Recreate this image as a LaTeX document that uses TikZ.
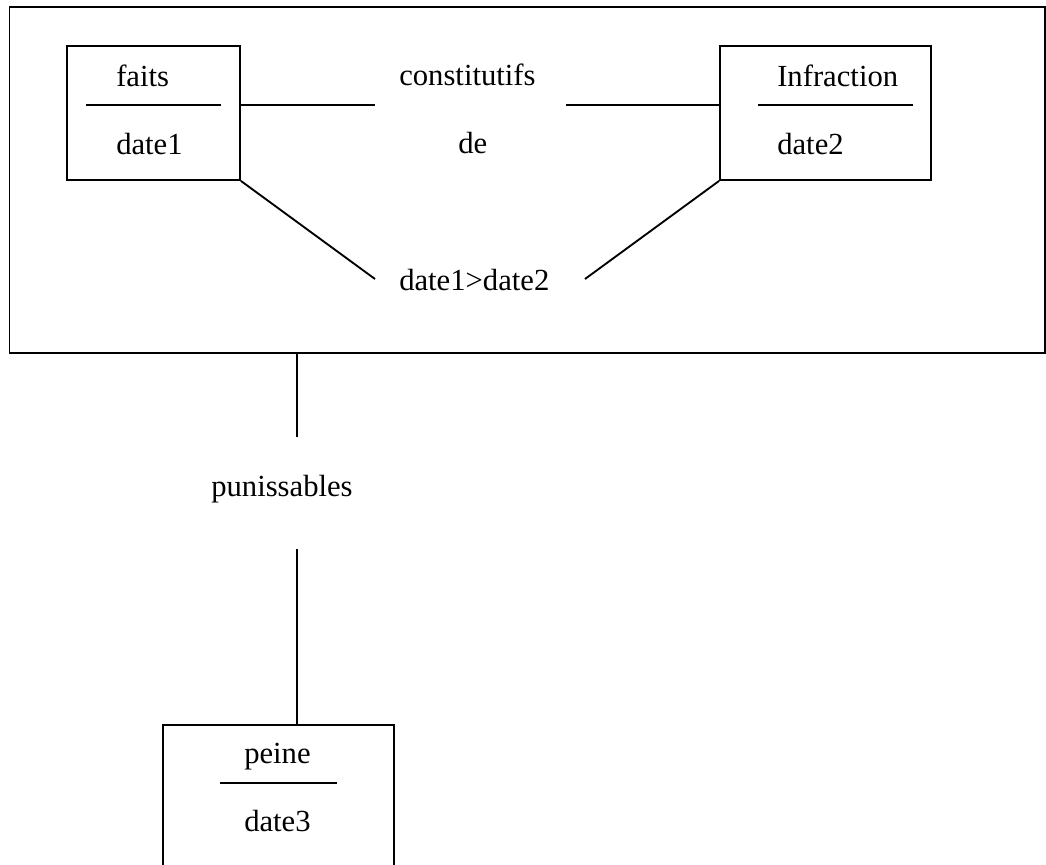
\documentclass[tikz,border=0pt]{standalone}
\usepackage{fontspec}
\setmainfont{Liberation Serif}
\begin{document}
\begin{tikzpicture}[x=0.75pt,y=-0.75pt,
  ln/.style={line width=1.4pt,black},
  box/.style={draw,line width=1.4pt,rectangle,inner sep=0pt},
  lbl/.style={font=\fontsize{23}{27}\selectfont,inner sep=0pt,anchor=base west}]
\useasboundingbox (0,0) rectangle (1046,864);
\clip (0,0) rectangle (1046,864);
% outer frame
\node[box,minimum width=1035.5*0.75pt,minimum height=346*0.75pt] (outer) at (527.25,180) {};
% boxes
\node[box,minimum width=173*0.75pt,minimum height=134*0.75pt] (fbox) at (153.5,113) {};
\node[box,minimum width=211*0.75pt,minimum height=134*0.75pt] (ibox) at (825.5,113) {};
\node[box,minimum width=231*0.75pt,minimum height=200*0.75pt] (pbox) at (278.5,825) {};
% texts
\node[lbl] (faits) at (116,86) {faits};
\node[lbl] (date1) at (116,154) {date1};
\node[lbl] (infr) at (777,86) {Infraction};
\node[lbl] (date2) at (777,154) {date2};
\node[lbl] (constit) at (399,85) {constitutifs};
\node[lbl] (de) at (458,153) {de};
\node[lbl] (cmp) at (399,290) {date1>date2};
\node[lbl] (puni) at (211,496) {punissables};
\node[lbl] (peine) at (244,763) {peine};
\node[lbl] (date3) at (244,831) {date3};
% separators inside boxes
\coordinate (fs1) at (86,105); \coordinate (fs2) at (221,105);
\coordinate (is1) at (758,105); \coordinate (is2) at (913,105);
\coordinate (ps1) at (220,783); \coordinate (ps2) at (337,783);
\draw[ln] (fs1) -- (fs2);
\draw[ln] (is1) -- (is2);
\draw[ln] (ps1) -- (ps2);
% connectors
\coordinate (c1) at (375,105);
\coordinate (c2) at (566,105);
\coordinate (c3) at (375,279);
\coordinate (c4) at (585,279);
\coordinate (c5) at (297,437);
\coordinate (c6) at (297,549);
\draw[ln] (fbox.east |- c1) -- (c1);
\draw[ln] (c2) -- (ibox.west |- c2);
\draw[ln] (fbox.south east) -- (c3);
\draw[ln] (ibox.south west) -- (c4);
\draw[ln] (outer.south -| c5) -- (c5);
\draw[ln] (c6) -- (pbox.north -| c6);
\end{tikzpicture}
\end{document}
